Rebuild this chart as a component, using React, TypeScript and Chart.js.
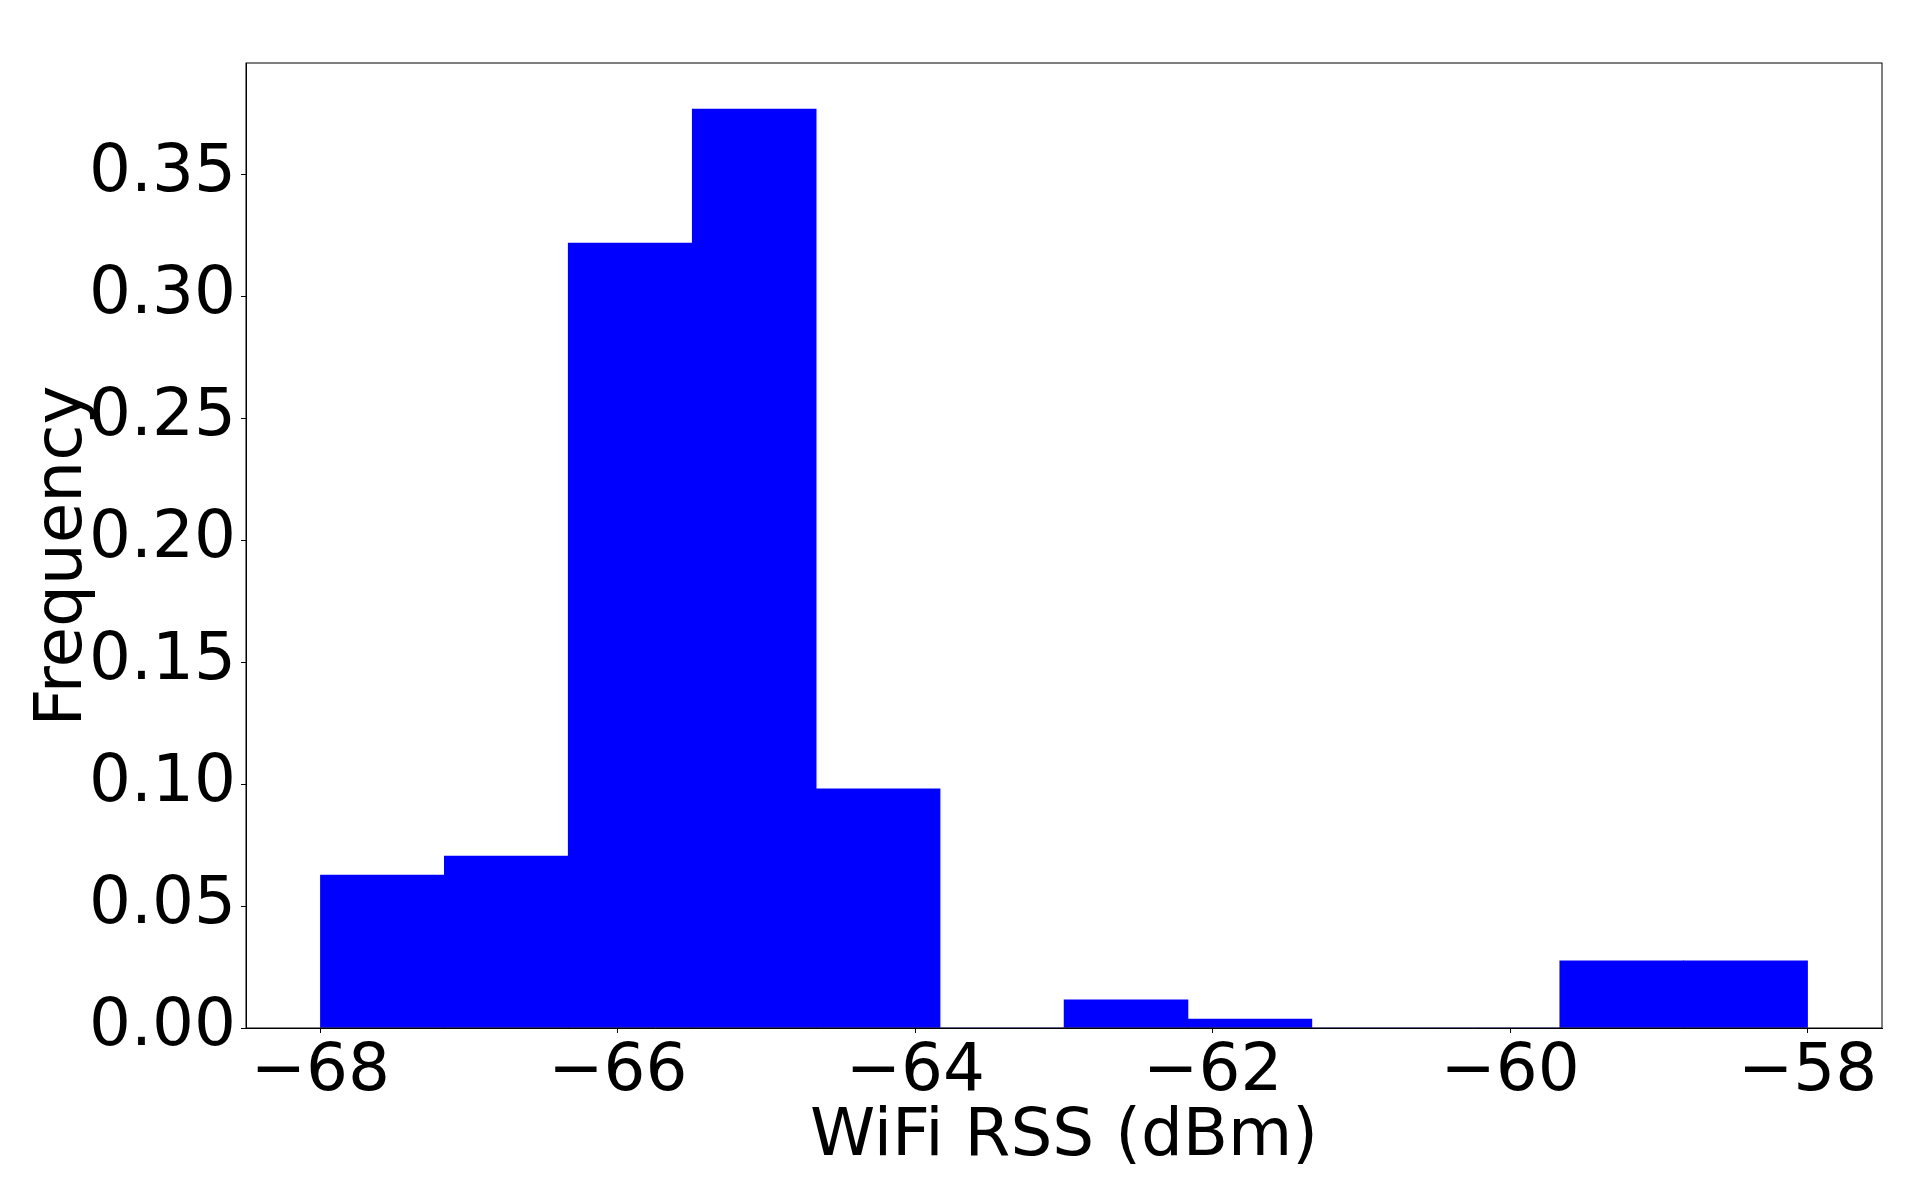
import { useEffect, useRef } from "react";
import Chart from "chart.js/auto";

// histogram bins: centres of the 12 bins between -68 and -58 dBm
const binCenters = [
  -67.583, -66.75, -65.917, -65.083, -64.25, -63.417, -62.583, -61.75, -60.917,
  -60.083, -59.25, -58.417,
];
const frequencies = [
  0.0627, 0.0705, 0.3217, 0.3766, 0.098, 0, 0.0115, 0.0037, 0, 0, 0.0275, 0.0275,
];
const xTicks = [-68, -66, -64, -62, -60, -58];
const yTicks = [0, 0.05, 0.1, 0.15, 0.2, 0.25, 0.3, 0.35];

const FONT = "'DejaVu Sans', sans-serif";

const framePlugin = {
  id: "frame",
  afterDatasetsDraw(chart: Chart) {
    const { ctx, chartArea } = chart;
    ctx.save();
    ctx.strokeStyle = "#000";
    ctx.lineWidth = 1;
    ctx.strokeRect(
      chartArea.left,
      chartArea.top,
      chartArea.right - chartArea.left,
      chartArea.bottom - chartArea.top
    );
    ctx.restore();
  },
};

export default function App() {
  const canvasRef = useRef<HTMLCanvasElement>(null);
  const chartRef = useRef<Chart | null>(null);

  useEffect(() => {
    if (!canvasRef.current) return;
    if (chartRef.current) chartRef.current.destroy();

    chartRef.current = new Chart(canvasRef.current, {
      type: "bar",
      data: {
        datasets: [
          {
            label: "Frequency",
            data: binCenters.map((x, i) => ({ x, y: frequencies[i] })),
            backgroundColor: "#0000ff",
            borderWidth: 0,
            barPercentage: 1,
            categoryPercentage: 1,
          },
        ],
      },
      options: {
        animation: false,
        responsive: false,
        devicePixelRatio: 1,
        layout: { padding: { left: 0, right: 40, top: 63, bottom: 0 } },
        plugins: {
          legend: { display: false },
          tooltip: { enabled: false },
        },
        scales: {
          x: {
            type: "linear",
            offset: false,
            min: -68.5,
            max: -57.5,
            afterBuildTicks: (scale) => {
              scale.ticks = xTicks.map((value) => ({ value }));
            },
            afterFit: (scale) => {
              scale.height = 152;
            },
            grid: {
              offset: false,
              drawOnChartArea: false,
              tickLength: 5,
              color: "#000",
            },
            border: { color: "#000", width: 1 },
            ticks: {
              color: "#000",
              padding: 0,
              maxRotation: 0,
              font: { family: FONT, size: 66 },
              callback: (v) => {
                const n = Number(v);
                return (n < 0 ? "\u2212" : "") + Math.abs(n);
              },
            },
            title: {
              display: true,
              text: "WiFi RSS (dBm)",
              color: "#000",
              padding: { top: 0, bottom: 3 },
              font: { family: FONT, size: 66, lineHeight: 1.2 },
            },
          },
          y: {
            min: 0,
            max: 0.3955,
            afterBuildTicks: (scale) => {
              scale.ticks = yTicks.map((value) => ({ value }));
            },
            afterFit: (scale) => {
              scale.width = 246;
            },
            grid: {
              drawOnChartArea: false,
              tickLength: 5,
              color: "#000",
            },
            border: { color: "#000", width: 1 },
            ticks: {
              color: "#000",
              padding: 5,
              font: { family: FONT, size: 66 },
              callback: (v) => Number(v).toFixed(2),
            },
            title: {
              display: true,
              // trailing space nudges the rotated title down a little
              text: "Frequency ",
              color: "#000",
              padding: { top: 24, bottom: 0 },
              font: { family: FONT, size: 66, lineHeight: 1.2 },
            },
          },
        },
      },
      plugins: [framePlugin],
    });

    return () => {
      if (chartRef.current) {
        chartRef.current.destroy();
        chartRef.current = null;
      }
    };
  }, []);

  return (
    <div style={{ position: "fixed", left: 0, top: 0, width: 1922, height: 1180, background: "#fff" }}>
      <canvas ref={canvasRef} width={1922} height={1180} style={{ width: 1922, height: 1180 }} />
    </div>
  );
}
